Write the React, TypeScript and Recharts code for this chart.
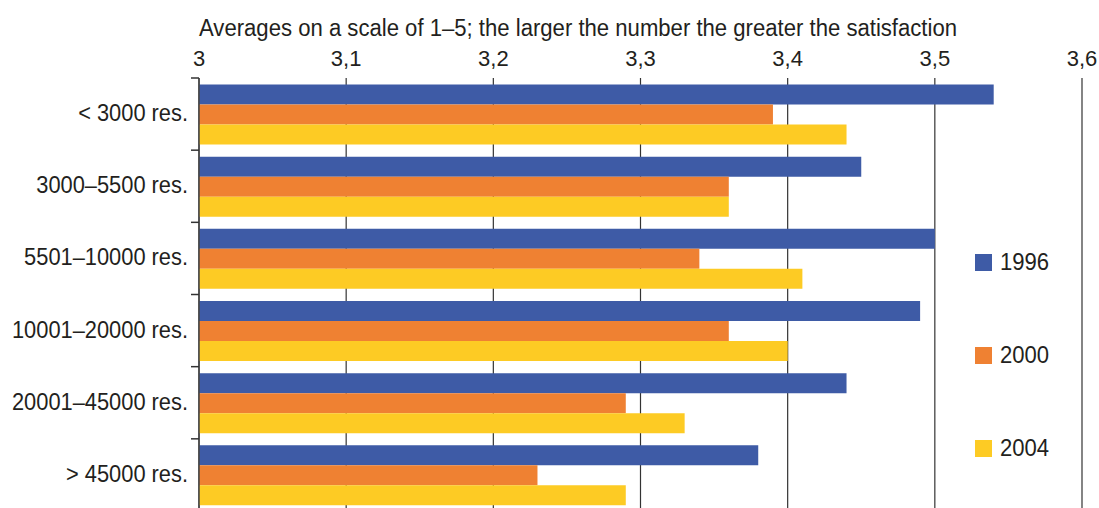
import React from 'react';
import { BarChart, Bar, XAxis, YAxis, CartesianGrid, Legend } from 'recharts';

const categories = ['< 3000 res.', '3000–5500 res.', '5501–10000 res.', '10001–20000 res.', '20001–45000 res.', '> 45000 res.'];
const values1996 = [3.54, 3.45, 3.50, 3.49, 3.44, 3.38];
const values2000 = [3.39, 3.36, 3.34, 3.36, 3.29, 3.23];
const values2004 = [3.44, 3.36, 3.41, 3.40, 3.33, 3.29];
const xTicks = [3, 3.1, 3.2, 3.3, 3.4, 3.5, 3.6];
const seriesNames = ['1996', '2000', '2004'];
const colors = ['#3E5BA6', '#EF8132', '#FDCB24'];
const title = 'Averages on a scale of 1–5; the larger the number the greater the satisfaction';

const data = categories.map((c, i) => ({
  name: c,
  y1996: values1996[i],
  y2000: values2000[i],
  y2004: values2004[i],
}));

const FONT = '"Liberation Sans", Arial, sans-serif';
const TEXT = '#231F20';

const W = 1099;
const H = 518;
const TOP = 78;
const BOTTOM_MARGIN = 7;
const BAND = (H - TOP - BOTTOM_MARGIN) / categories.length;

const fmt = (v: number) => (Math.abs(v - 3) < 1e-9 ? '3' : v.toFixed(1).replace('.', ','));

const XTick = (props: any) => {
  const { x, y, payload } = props;
  return (
    <text x={x} y={y} textAnchor="middle" fill={TEXT} fontSize={22} fontFamily={FONT}>
      {fmt(payload.value)}
    </text>
  );
};

const YTick = (props: any) => {
  const { x, y, payload } = props;
  return (
    <g>
      <line x1={x} x2={x + 8} y1={y - BAND / 2} y2={y - BAND / 2} stroke="#333" strokeWidth={1.5} />
      <text
        transform={`translate(${x - 3},${y + 7}) scale(0.91,1)`}
        textAnchor="end"
        fill={TEXT}
        fontSize={24}
        fontFamily={FONT}
      >
        {payload.value}
      </text>
    </g>
  );
};

const LegendContent = () => (
  <div style={{ position: 'relative', width: 110, height: 230 }}>
    {seriesNames.map((n, i) => (
      <div key={n} style={{ position: 'absolute', left: 0, top: i * 93, height: 17, width: 110 }}>
        <span style={{ position: 'absolute', left: 0, top: 0, width: 17, height: 17, background: colors[i] }} />
        <span
          style={{
            position: 'absolute',
            left: 25,
            top: -6,
            fontFamily: FONT,
            fontSize: 24,
            lineHeight: '28px',
            color: TEXT,
            transform: 'scaleX(0.92)',
            transformOrigin: 'left center',
            whiteSpace: 'nowrap',
          }}
        >
          {n}
        </span>
      </div>
    ))}
  </div>
);

export default function App() {
  return (
    <div style={{ position: 'absolute', left: 0, top: 0, width: W, height: 508, overflow: 'hidden', background: '#fff' }}>
      <svg width={W} height={44} style={{ position: 'absolute', left: 0, top: 0 }}>
        <text x={199} y={36} fill={TEXT} fontSize={23.5} fontFamily={FONT} textLength={758} lengthAdjust="spacingAndGlyphs">
          {title}
        </text>
      </svg>
      <div style={{ position: 'absolute', left: 0, top: 0 }}>
        <BarChart
          width={W}
          height={H}
          data={data}
          layout="vertical"
          margin={{ top: 0, right: 17, bottom: BOTTOM_MARGIN, left: 0 }}
          barCategoryGap="9%"
          barGap={0}
        >
          <CartesianGrid horizontal={false} vertical={true} stroke="#333" strokeWidth={1.2} />
          <XAxis
            type="number"
            orientation="top"
            domain={[3, 3.6]}
            ticks={xTicks}
            axisLine={false}
            tickLine={false}
            height={TOP}
            tick={<XTick />}
            tickMargin={6}
            allowDataOverflow
          />
          <YAxis
            type="category"
            dataKey="name"
            width={199}
            axisLine={{ stroke: '#444', strokeWidth: 1.5 }}
            tickLine={false}
            tick={<YTick />}
            interval={0}
          />
          <Legend
            layout="horizontal"
            verticalAlign="middle"
            align="center"
            wrapperStyle={{ position: 'absolute', left: 975, top: 254, width: 110, height: 230 }}
            content={<LegendContent />}
          />
          <Bar dataKey="y1996" name="1996" fill={colors[0]} isAnimationActive={false} />
          <Bar dataKey="y2000" name="2000" fill={colors[1]} isAnimationActive={false} />
          <Bar dataKey="y2004" name="2004" fill={colors[2]} isAnimationActive={false} />
        </BarChart>
      </div>
    </div>
  );
}
